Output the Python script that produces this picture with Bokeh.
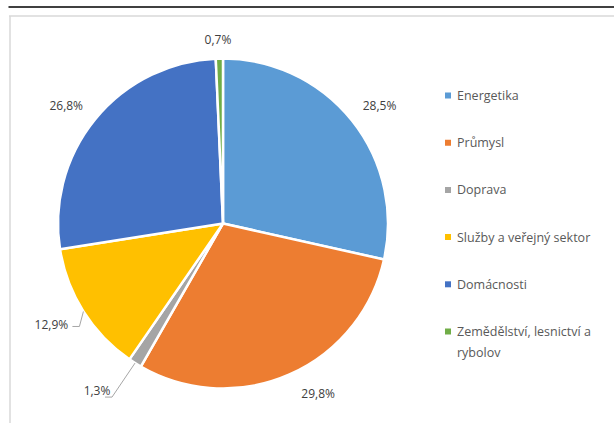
import math
import textwrap
import numpy as np
from bokeh.plotting import figure
from bokeh.models import Range1d
from bokeh.core.properties import value
from bokeh.embed import file_html
from bokeh.resources import INLINE

# ---- data ----
categories = ["Energetika", "Průmysl", "Doprava", "Služby a veřejný sektor",
              "Domácnosti", "Zemědělství, lesnictví a rybolov"]
shares = [28.5, 29.8, 1.3, 12.9, 26.8, 0.7]
colors = ["#5B9BD5", "#ED7D31", "#A5A5A5", "#FFC000", "#4472C4", "#70AD47"]

# ---- layout (screen px -> data: x = sx, y = 423 - sy) ----
W, H = 614, 423
def Y(sy):
    return 423 - sy

cx, cy = 222.5, Y(223)
R = 165
FONT = "Open Sans"

p = figure(width=W, height=H, output_backend="svg", toolbar_location=None,
           x_range=Range1d(0, 614), y_range=Range1d(0, 423),
           x_axis_type=None, y_axis_type=None, min_border=0)
p.outline_line_color = None
p.grid.visible = False
p.background_fill_color = "white"
p.border_fill_color = "white"

# decorative lines: black rule at the top, light chart frame
p.line([8, 614], [Y(6.5), Y(6.5)], line_color="black", line_width=1.6)
p.line([8.5, 614], [Y(15.5), Y(15.5)], line_color="#d9d9d9", line_width=1.5)
p.line([9.5, 9.5], [Y(15.5), 0], line_color="#d9d9d9", line_width=1.5)

# ---- pie ----
total = sum(shares)
frac = np.array(shares) / total
cum = np.concatenate([[0], np.cumsum(frac)])
start = math.pi / 2 - cum[:-1] * 2 * math.pi
end = math.pi / 2 - cum[1:] * 2 * math.pi
p.wedge(x=[cx] * len(shares), y=[cy] * len(shares), radius=R, radius_units="screen",
        start_angle=list(start), end_angle=list(end), direction="clock",
        fill_color=colors, line_color="white", line_width=2.5)

# ---- data labels ----
label_txt = [f"{v:.1f}".replace(".", ",") + "%" for v in shares]
mid = (cum[:-1] + cum[1:]) / 2 * 2 * math.pi  # clockwise from top
nudge = [(3.5, 4.5), (18, -5), (0, 0), (0, 0), (-5, 6), (-1, 1.5)]  # screen px
lx, ly = [], []
for i, a in enumerate(mid):
    w = 7.0 * len(label_txt[i])
    h = 14
    rr = R + 13 + 0.5 * (w * abs(math.sin(a)) + h * abs(math.cos(a)))
    lx.append(cx + rr * math.sin(a) + nudge[i][0])
    ly.append(cy + rr * math.cos(a) - nudge[i][1])

# small slices pulled out with leader lines
for i in (2, 3):
    a = mid[i]
    ex, ey = cx + R * math.sin(a), cy + R * math.cos(a)
    if i == 2:
        kx, ky = ex - 23, ey - 34
        lx[i], ly[i] = kx - 15, ky + 7
    else:
        kx, ky = ex - 4, ey - 15
        lx[i], ly[i] = kx - 28, ky + 2
    p.line([ex, kx, kx - 7], [ey, ky, ky], line_color="#a6a6a6", line_width=1)

p.text(x=lx, y=ly, text=label_txt, text_font=value(FONT), text_font_size="12px",
       text_color="#404040", text_align="center", text_baseline="middle")

# ---- legend ----
leg_x = 447.5
leg_y0 = 95
leg_step = 47.2
sq_x, sq_y, tx, ty, tt = [], [], [], [], []
for i, name in enumerate(categories):
    sy = leg_y0 + i * leg_step
    sq_x.append(leg_x)
    sq_y.append(Y(sy))
    for k, line in enumerate(textwrap.wrap(name, 24)):
        tx.append(456.5)
        ty.append(Y(sy + k * 20.5))
        tt.append(line)
p.scatter(x=sq_x, y=sq_y, marker="square", size=6, fill_color=colors, line_color=None)
p.text(x=tx, y=ty, text=tt, text_font=value(FONT), text_font_size="12.5px",
       text_color="#595959", text_align="left", text_baseline="middle")

open("out.html", "w").write(file_html(p, INLINE))
